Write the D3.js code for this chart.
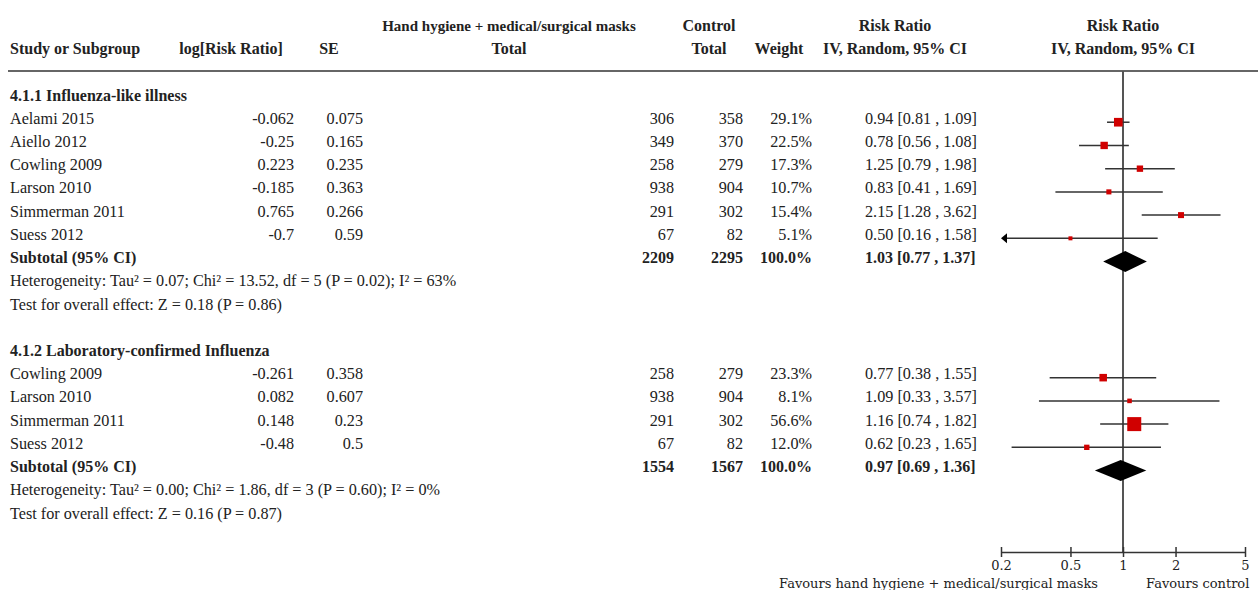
<!DOCTYPE html>
<html>
<head>
<meta charset="utf-8">
<script src="https://cdn.jsdelivr.net/npm/d3@7"></script>
<style>
  body { margin: 0; background: #fff; }
  text { font-family: 'Liberation Serif', 'Times New Roman', serif; font-size: 16.2px; fill: #222; }
  .bold { font-weight: bold; font-size: 16px; }
  .axis text { font-family: 'DejaVu Serif', serif; font-size: 13px; }
</style>
</head>
<body>
<svg id="forest" width="1258" height="590"></svg>
<script>
// ---- data ----
var group1Title = "4.1.1 Influenza-like illness";
var group1Studies = ["Aelami 2015", "Aiello 2012", "Cowling 2009", "Larson 2010", "Simmerman 2011", "Suess 2012"];
var group1LogRR = [-0.062, -0.25, 0.223, -0.185, 0.765, -0.7];
var group1SE = [0.075, 0.165, 0.235, 0.363, 0.266, 0.59];
var group1Exp = [306, 349, 258, 938, 291, 67];
var group1Ctrl = [358, 370, 279, 904, 302, 82];
var group1Weight = [29.1, 22.5, 17.3, 10.7, 15.4, 5.1];
var group1RR = [0.94, 0.78, 1.25, 0.83, 2.15, 0.50];
var group1Lo = [0.81, 0.56, 0.79, 0.41, 1.28, 0.16];
var group1Hi = [1.09, 1.08, 1.98, 1.69, 3.62, 1.58];
var group1Subtotal = [2209, 2295, 100.0, 1.03, 0.77, 1.37]; // exp, ctrl, weight, rr, lo, hi
var group1Het = "Heterogeneity: Tau² = 0.07; Chi² = 13.52, df = 5 (P = 0.02); I² = 63%";
var group1Test = "Test for overall effect: Z = 0.18 (P = 0.86)";

var group2Title = "4.1.2 Laboratory-confirmed Influenza";
var group2Studies = ["Cowling 2009", "Larson 2010", "Simmerman 2011", "Suess 2012"];
var group2LogRR = [-0.261, 0.082, 0.148, -0.48];
var group2SE = [0.358, 0.607, 0.23, 0.5];
var group2Exp = [258, 938, 291, 67];
var group2Ctrl = [279, 904, 302, 82];
var group2Weight = [23.3, 8.1, 56.6, 12.0];
var group2RR = [0.77, 1.09, 1.16, 0.62];
var group2Lo = [0.38, 0.33, 0.74, 0.23];
var group2Hi = [1.55, 3.57, 1.82, 1.65];
var group2Subtotal = [1554, 1567, 100.0, 0.97, 0.69, 1.36];
var group2Het = "Heterogeneity: Tau² = 0.00; Chi² = 1.86, df = 3 (P = 0.60); I² = 0%";
var group2Test = "Test for overall effect: Z = 0.16 (P = 0.87)";

var axisTicks = [0.2, 0.5, 1, 2, 5];
var favoursLeft = "Favours hand hygiene + medical/surgical masks";
var favoursRight = "Favours control";

// ---- layout ----
var svg = d3.select('#forest');

var colStudy = 10,
    colLogRR = 294,
    colSE = 363,
    colExp = 674,
    colCtrl = 743,
    colWeight = 812,
    colCI = 865;

var x = d3.scaleLog().domain([0.2, 5]).range([1001, 1245]);
var rowY = d3.scaleLinear().domain([0, 18]).range([95, 513]);
var boxSize = d3.scaleLinear().domain([0, 56.6]).range([3, 14]);

var axisY = 552,
    lineTop = 71;

function txt(xp, yc, s, anchor, bold) {
  return svg.append("text")
    .attr("x", xp)
    .attr("y", yc + 5.5)
    .attr("text-anchor", anchor || "start")
    .attr("class", bold ? "bold" : null)
    .text(s);
}

function ciText(rr, lo, hi) {
  return rr.toFixed(2) + " [" + lo.toFixed(2) + " , " + hi.toFixed(2) + "]";
}

// Header
txt(509, 25, "Hand hygiene + medical/surgical masks", "middle", true).style("font-size", "15px");
txt(709, 25, "Control", "middle", true);
txt(895, 25, "Risk Ratio", "middle", true);
txt(1123, 25, "Risk Ratio", "middle", true);
txt(colStudy, 48, "Study or Subgroup", "start", true);
txt(231, 48, "log[Risk Ratio]", "middle", true);
txt(329, 48, "SE", "middle", true);
txt(509, 48, "Total", "middle", true);
txt(709, 48, "Total", "middle", true);
txt(779, 48, "Weight", "middle", true);
txt(895, 48, "IV, Random, 95% CI", "middle", true);
txt(1123, 48, "IV, Random, 95% CI", "middle", true);

svg.append("line")
  .attr("x1", 8).attr("x2", 1258)
  .attr("y1", lineTop).attr("y2", lineTop)
  .style("stroke", "#666").style("stroke-width", 2);

// line of no effect
svg.append("line")
  .attr("x1", x(1)).attr("x2", x(1))
  .attr("y1", lineTop).attr("y2", axisY)
  .style("stroke", "#555").style("stroke-width", 2);

function drawGroup(start, title, studies, logrr, se, exp, ctrl, weight, rr, lo, hi, sub, het, test) {
  txt(colStudy, rowY(start), title, "start", true);

  studies.forEach(function(name, i) {
    var yc = rowY(start + 1 + i);
    txt(colStudy, yc, name);
    txt(colLogRR, yc, String(logrr[i]), "end");
    txt(colSE, yc, String(se[i]), "end");
    txt(colExp, yc, exp[i], "end");
    txt(colCtrl, yc, ctrl[i], "end");
    txt(colWeight, yc, weight[i].toFixed(1) + "%", "end");
    txt(colCI, yc, ciText(rr[i], lo[i], hi[i]));

    var my = yc + 4;
    var clipped = lo[i] < 0.2;
    var x1 = clipped ? x(0.2) + 5 : x(lo[i]);
    svg.append("line")
      .attr("x1", x1).attr("x2", x(Math.min(hi[i], 5)))
      .attr("y1", my).attr("y2", my)
      .style("stroke", "#333").style("stroke-width", 1.5);
    if (clipped) {
      svg.append("path")
        .attr("d", d3.line()([[x(0.2), my], [x(0.2) + 6, my - 5], [x(0.2) + 6, my + 5]]) + "Z")
        .style("fill", "#000");
    }
    var s = boxSize(weight[i]);
    svg.append("rect")
      .attr("x", x(rr[i]) - s / 2)
      .attr("y", my - s / 2)
      .attr("width", s).attr("height", s)
      .style("fill", "#d00000");
  });

  var ys = rowY(start + 1 + studies.length);
  txt(colStudy, ys, "Subtotal (95% CI)", "start", true);
  txt(colExp, ys, sub[0], "end", true);
  txt(colCtrl, ys, sub[1], "end", true);
  txt(colWeight, ys, sub[2].toFixed(1) + "%", "end", true);
  txt(colCI, ys, ciText(sub[3], sub[4], sub[5]), "start", true);

  var dy = ys + 4;
  svg.append("path")
    .attr("d", d3.line()([[x(sub[4]), dy], [x(sub[3]), dy - 10.5], [x(sub[5]), dy], [x(sub[3]), dy + 10.5]]) + "Z")
    .style("fill", "#000");

  txt(colStudy, rowY(start + 2 + studies.length), het);
  txt(colStudy, rowY(start + 3 + studies.length), test);
}

drawGroup(0, group1Title, group1Studies, group1LogRR, group1SE, group1Exp, group1Ctrl,
          group1Weight, group1RR, group1Lo, group1Hi, group1Subtotal, group1Het, group1Test);
drawGroup(11, group2Title, group2Studies, group2LogRR, group2SE, group2Exp, group2Ctrl,
          group2Weight, group2RR, group2Lo, group2Hi, group2Subtotal, group2Het, group2Test);

// Axis
var ax = svg.append("g")
  .attr("class", "axis")
  .attr("transform", "translate(0," + axisY + ")")
  .call(d3.axisBottom(x).tickValues(axisTicks).tickFormat(d3.format("")).tickSize(5).tickSizeOuter(0));
ax.select(".domain").style("stroke", "#333").style("stroke-width", 1.5);
ax.selectAll(".tick line").attr("y1", -5).style("stroke", "#333").style("stroke-width", 1.5);
ax.selectAll(".tick text").attr("y", 9).style("fill", "#222");

svg.append("text").attr("class", "axis-label")
  .attr("x", 1098).attr("y", 588)
  .attr("text-anchor", "end")
  .style("font-family", "'DejaVu Serif', serif").style("font-size", "13px")
  .text(favoursLeft);
svg.append("text").attr("class", "axis-label")
  .attr("x", 1146).attr("y", 588)
  .style("font-family", "'DejaVu Serif', serif").style("font-size", "13px")
  .text(favoursRight);
</script>
</body>
</html>
